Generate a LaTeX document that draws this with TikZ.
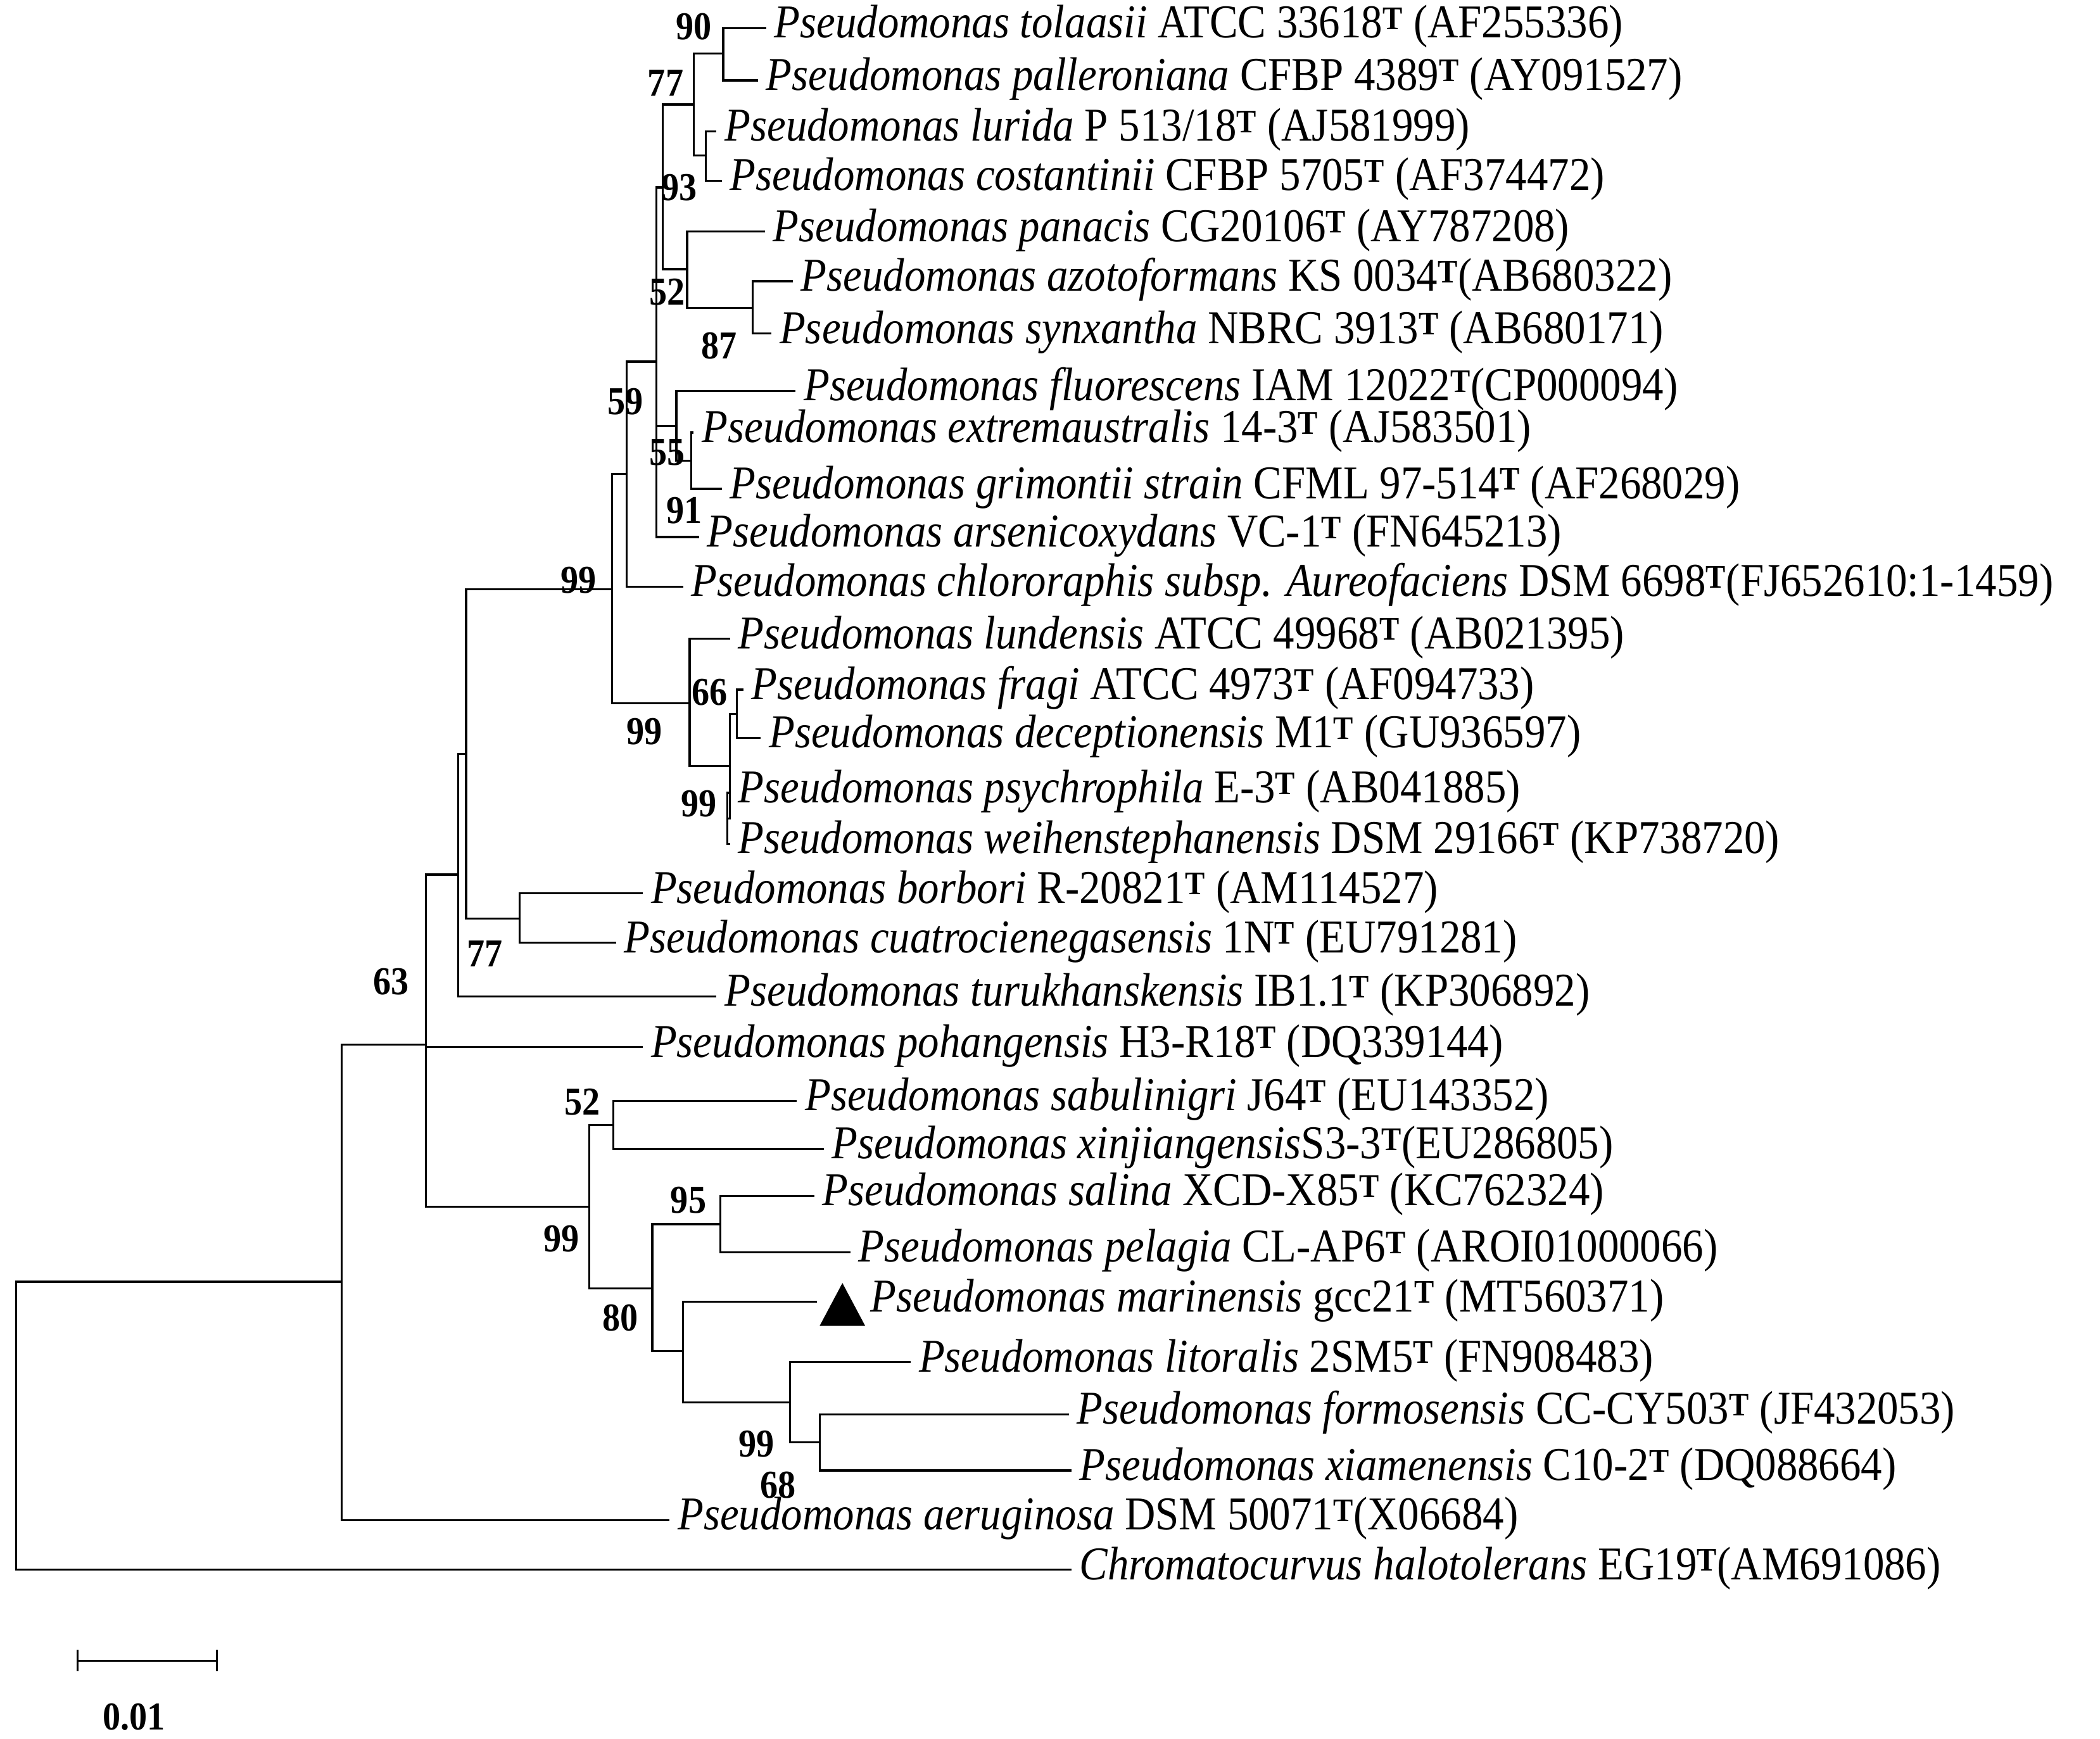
\documentclass[tikz,border=0pt]{standalone}
\usepackage{fontspec}
\setmainfont[FakeStretch=0.9]{Liberation Serif}
\begin{document}
\begin{tikzpicture}[x=0.05cm,y=-0.05cm,
  lbl/.style={anchor=west,inner sep=0pt,font=\fontsize{50}{52}\selectfont},
  bs/.style={font=\fontsize{42}{44}\selectfont\bfseries,inner sep=0pt},
  br/.style={line width=2.2pt}]
\useasboundingbox (0,0) rectangle (1568,1298);
\newcommand{\T}{\textsuperscript{\textbf{T}}}
\newcommand{\lf}[5]{\node[lbl] (#1) at (#2,#3) {#4\strut};\coordinate (#1e) at (#2-6,#3);}
\lf{l1}{578}{21}{\textit{Pseudomonas tolaasii} ATCC 33618\T\ (AF255336)}{}
\lf{l2}{572}{60}{\textit{Pseudomonas palleroniana} CFBP 4389\T\ (AY091527)}{}
\lf{l3}{541}{98}{\textit{Pseudomonas lurida} P 513/18\T\ (AJ581999)}{}
\lf{l4}{545}{135}{\textit{Pseudomonas costantinii} CFBP 5705\T\ (AF374472)}{}
\lf{l5}{577}{173}{\textit{Pseudomonas panacis} CG20106\T\ (AY787208)}{}
\lf{l6}{598}{210}{\textit{Pseudomonas azotoformans} KS 0034\T(AB680322)}{}
\lf{l7}{582}{249}{\textit{Pseudomonas synxantha} NBRC 3913\T\ (AB680171)}{}
\lf{l8}{600}{292}{\textit{Pseudomonas fluorescens} IAM 12022\T(CP000094)}{}
\lf{l9}{524}{323}{\textit{Pseudomonas extremaustralis} 14-3\T\ (AJ583501)}{}
\lf{l10}{545}{365}{\textit{Pseudomonas grimontii strain} CFML 97-514\T\ (AF268029)}{}
\lf{l11}{528}{401}{\textit{Pseudomonas arsenicoxydans} VC-1\T\ (FN645213)}{}
\lf{l12}{516}{438}{\textit{Pseudomonas chlororaphis subsp. Aureofaciens} DSM 6698\T(FJ652610:1-1459)}{}
\lf{l13}{551}{477}{\textit{Pseudomonas lundensis} ATCC 49968\T\ (AB021395)}{}
\lf{l14}{561}{515}{\textit{Pseudomonas fragi} ATCC 4973\T\ (AF094733)}{}
\lf{l15}{574}{551}{\textit{Pseudomonas deceptionensis} M1\T\ (GU936597)}{}
\lf{l16}{551}{592}{\textit{Pseudomonas psychrophila} E-3\T\ (AB041885)}{}
\lf{l17}{551}{630}{\textit{Pseudomonas weihenstephanensis} DSM 29166\T\ (KP738720)}{}
\lf{l18}{486}{667}{\textit{Pseudomonas borbori} R-20821\T\ (AM114527)}{}
\lf{l19}{466}{704}{\textit{Pseudomonas cuatrocienegasensis} 1N\T\ (EU791281)}{}
\lf{l20}{541}{744}{\textit{Pseudomonas turukhanskensis} IB1.1\T\ (KP306892)}{}
\lf{l21}{486}{782}{\textit{Pseudomonas pohangensis} H3-R18\T\ (DQ339144)}{}
\lf{l22}{601}{822}{\textit{Pseudomonas sabulinigri} J64\T\ (EU143352)}{}
\lf{l23}{621}{858}{\textit{Pseudomonas xinjiangensis}S3-3\T(EU286805)}{}
\lf{l24}{614}{893}{\textit{Pseudomonas salina} XCD-X85\T\ (KC762324)}{}
\lf{l25}{641}{935}{\textit{Pseudomonas pelagia} CL-AP6\T\ (AROI01000066)}{}
\lf{l26}{650}{972}{\textit{Pseudomonas marinensis} gcc21\T\ (MT560371)}{}
\lf{l27}{686}{1017}{\textit{Pseudomonas litoralis} 2SM5\T\ (FN908483)}{}
\lf{l28}{804}{1056}{\textit{Pseudomonas formosensis} CC-CY503\T\ (JF432053)}{}
\lf{l29}{806}{1098}{\textit{Pseudomonas xiamenensis} C10-2\T\ (DQ088664)}{}
\lf{l30}{506}{1135}{\textit{Pseudomonas aeruginosa} DSM 50071\T(X06684)}{}
\lf{l31}{806}{1172}{\textit{Chromatocurvus halotolerans} EG19\T(AM691086)}{}
\fill (612,990) -- (629,958) -- (646,990) -- cycle;
\coordinate (l26e) at (610,972);
\coordinate (a12) at (540,40);
\coordinate (a34) at (527,116);
\coordinate (a14) at (518,78);
\coordinate (a67) at (562,230);
\coordinate (a57) at (513,201);
\coordinate (a17) at (495,140);
\coordinate (a910) at (516,344);
\coordinate (a810) at (505,318);
\coordinate (b) at (490,270);
\coordinate (c) at (468,354);
\coordinate (a1617) at (543,611);
\coordinate (a1415) at (550,533);
\coordinate (a1417) at (545,572);
\coordinate (a1317) at (515,525);
\coordinate (d) at (457,440);
\coordinate (a1819) at (388,686);
\coordinate (e) at (348,563);
\coordinate (f) at (342,653);
\coordinate (a2223) at (458,840);
\coordinate (a2425) at (538,914);
\coordinate (a2829) at (612,1077);
\coordinate (a2729) at (590,1047);
\coordinate (a2629) at (510,1009);
\coordinate (a2429) at (487,962);
\coordinate (g) at (440,901);
\coordinate (h) at (318,780);
\coordinate (r1) at (255,957);
\coordinate (r0) at (12,1064);
\begin{scope}[br]
\draw (a12) |- (l1e); \draw (a12) |- (l2e);
\draw (a34) |- (l3e); \draw (a34) |- (l4e);
\draw (a14) |- (a12); \draw (a14) |- (a34);
\draw (a67) |- (l6e); \draw (a67) |- (l7e);
\draw (a57) |- (l5e); \draw (a57) |- (a67);
\draw (a17) |- (a14); \draw (a17) |- (a57);
\draw (a910) |- (l9e); \draw (a910) |- (l10e);
\draw (a810) |- (l8e); \draw (a810) |- (a910);
\draw (b) |- (a17); \draw (b) |- (a810); \draw (b) |- (l11e);
\draw (c) |- (b); \draw (c) |- (l12e);
\draw (a1617) |- (l16e); \draw (a1617) |- (l17e);
\draw (a1415) |- (l14e); \draw (a1415) |- (l15e);
\draw (a1417) |- (a1415); \draw (a1417) |- (a1617);
\draw (a1317) |- (l13e); \draw (a1317) |- (a1417);
\draw (d) |- (c); \draw (d) |- (a1317);
\draw (a1819) |- (l18e); \draw (a1819) |- (l19e);
\draw (e) |- (d); \draw (e) |- (a1819);
\draw (f) |- (e); \draw (f) |- (l20e);
\draw (a2223) |- (l22e); \draw (a2223) |- (l23e);
\draw (a2425) |- (l24e); \draw (a2425) |- (l25e);
\draw (a2829) |- (l28e); \draw (a2829) |- (l29e);
\draw (a2729) |- (l27e); \draw (a2729) |- (a2829);
\draw (a2629) |- (l26e); \draw (a2629) |- (a2729);
\draw (a2429) |- (a2425); \draw (a2429) |- (a2629);
\draw (g) |- (a2223); \draw (g) |- (a2429);
\draw (h) |- (f); \draw (h) |- (l21e); \draw (h) |- (g);
\draw (r1) |- (h); \draw (r1) |- (l30e);
\draw (r0) |- (r1); \draw (r0) |- (l31e);
\draw (58,1240) -- (162,1240);
\draw (58,1232) -- (58,1248); \draw (162,1232) -- (162,1248);
\end{scope}
\node[bs] (s1) at (100,1282) {0.01};
\node[bs] at (518,20) {90};
\node[bs] at (497,62) {77};
\node[bs] at (507,140) {93};
\node[bs] at (498,218) {52};
\node[bs] at (537,258) {87};
\node[bs] at (467,300) {59};
\node[bs] at (498,338) {55};
\node[bs] at (511,381) {91};
\node[bs] at (432,433) {99};
\node[bs] at (530,517) {66};
\node[bs] at (481,546) {99};
\node[bs] at (522,600) {99};
\node[bs] at (362,712) {77};
\node[bs] at (292,733) {63};
\node[bs] at (435,823) {52};
\node[bs] at (514,896) {95};
\node[bs] at (419,925) {99};
\node[bs] at (463,984) {80};
\node[bs] at (565,1078) {99};
\node[bs] at (581,1109) {68};
\end{tikzpicture}
\end{document}
